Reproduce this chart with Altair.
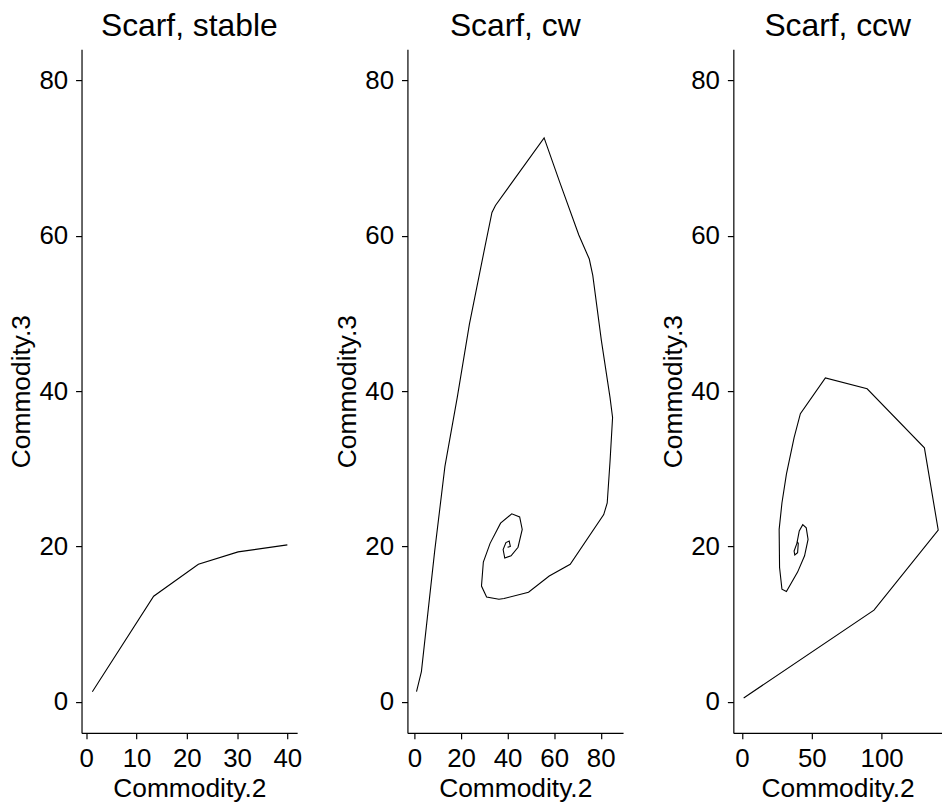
import altair as alt
import pandas as pd

# ---- data ----
stable_c2 = [1.2, 13.4, 22.3, 30.2, 40.0]
stable_c3 = [1.3, 13.6, 17.7, 19.3, 20.2]

cw_c2 = [0.9, 3.0, 8.7, 13.1, 18.4, 23.6, 30.3, 33.3, 34.8, 55.7, 62.4, 70.6, 75.1, 76.6,
         80.3, 84.0, 85.1, 84.0, 82.8, 81.3, 66.9, 57.9, 49.0, 38.5, 36.3, 31.0, 28.8,
         29.6, 32.5, 37.0, 41.8, 45.2, 46.3, 44.5, 41.5, 38.8, 38.1, 39.3, 40.7, 41.2, 40.0]
cw_c3 = [1.3, 3.9, 19.4, 30.3, 39.2, 48.6, 58.6, 63.0, 63.9, 72.6, 66.9, 60.1, 57.0, 54.9,
         46.5, 39.2, 36.6, 30.9, 25.6, 24.1, 17.7, 16.2, 14.1, 13.3, 13.2, 13.5, 14.9,
         18.0, 20.4, 23.0, 24.2, 23.8, 22.2, 19.9, 18.8, 18.5, 19.6, 20.5, 20.7, 20.0, 19.9]

ccw_c2 = [1.2, 94.5, 140.5, 130.6, 89.6, 59.7, 41.8, 37.3, 31.8, 28.6, 26.6, 26.9, 28.6,
          31.8, 39.8, 44.8, 47.3, 46.0, 43.5, 41.0, 39.3, 37.3, 37.8, 39.8, 40.3, 39.3]
ccw_c3 = [0.5, 11.8, 22.1, 32.7, 40.3, 41.7, 37.1, 34.0, 29.3, 25.6, 22.2, 17.3, 14.5,
          14.2, 16.7, 18.8, 20.9, 22.4, 22.8, 22.0, 20.4, 19.4, 18.9, 19.2, 20.4, 20.7]

titles = ["Scarf, stable", "Scarf, cw", "Scarf, ccw"]
x_domains = [[-0.95, 41.95], [-3.0, 89.6], [-6.2, 143.2]]
x_ticks = [[0, 10, 20, 30, 40], [0, 20, 40, 60, 80], [0, 50, 100]]
y_ticks = [0, 20, 40, 60, 80]
y_domain = [-4.0, 84.0]
widths = [217, 217, 210]

FONT = "Liberation Sans"


def panel(c2, c3, title, xdom, xt, w):
    df = pd.DataFrame({"c2": c2, "c3": c3, "k": list(range(len(c2)))})
    return (
        alt.Chart(
            df,
            title=alt.TitleParams(
                title, anchor="middle", fontSize=32, font=FONT, fontWeight="normal",
                color="black", offset=6,
            ),
        )
        .mark_line(color="black", strokeWidth=1.1, clip=True)
        .encode(
            x=alt.X("c2:Q", scale=alt.Scale(domain=xdom, nice=False, zero=False),
                    axis=alt.Axis(values=xt, title="Commodity.2", labelPadding=7,
                                  titlePadding=4)),
            y=alt.Y("c3:Q", scale=alt.Scale(domain=y_domain, nice=False, zero=False),
                    axis=alt.Axis(values=y_ticks, title="Commodity.3", labelPadding=8,
                                  titlePadding=3)),
            order="k:Q",
        )
        .properties(width=w, height=688)
    )


p1 = panel(stable_c2, stable_c3, titles[0], x_domains[0], x_ticks[0], widths[0])
p2 = panel(cw_c2, cw_c3, titles[1], x_domains[1], x_ticks[1], widths[1])
p3 = panel(ccw_c2, ccw_c3, titles[2], x_domains[2], x_ticks[2], widths[2])

chart = (
    alt.hconcat(p1, p2, p3, spacing=111, bounds="flush")
    .resolve_scale(x="independent")
    .properties(padding={"top": 0, "left": 1, "right": 0, "bottom": 0})
    .configure_view(stroke=None)
    .configure_axis(
        grid=False,
        domainColor="black",
        domainWidth=1.2,
        tickColor="black",
        tickWidth=1.2,
        tickSize=6,
        labelFont=FONT,
        labelFontSize=26,
        labelColor="black",
        titleFont=FONT,
        titleFontSize=26.5,
        titleFontWeight="normal",
        titleColor="black",
    )
)

chart.save("out.html", embed_options={"renderer": "svg", "actions": False})
